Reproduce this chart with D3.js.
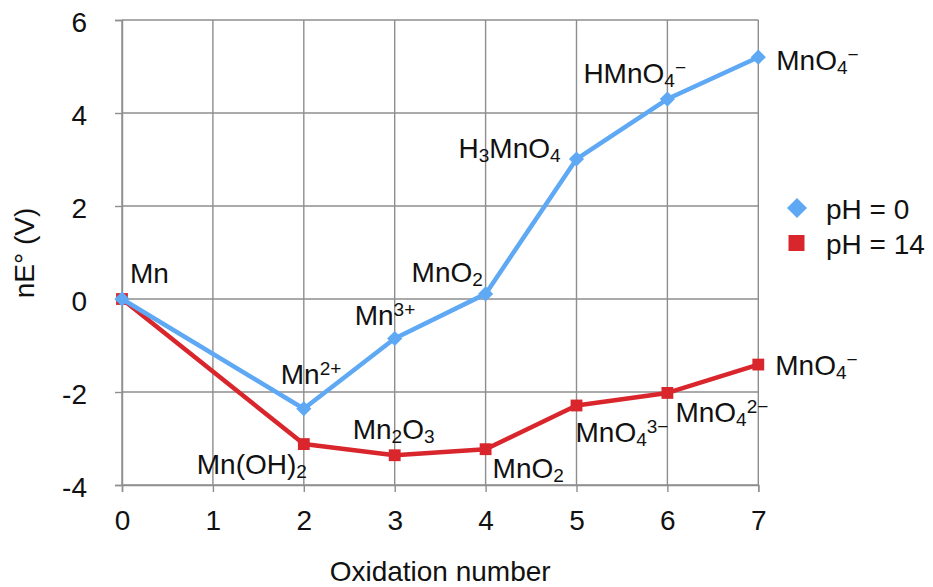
<!DOCTYPE html>
<html>
<head>
<meta charset="utf-8">
<script src="https://cdn.jsdelivr.net/npm/d3@7"></script>
<style>
  html, body { margin: 0; padding: 0; background: #fff; }
  svg text { font-family: "Liberation Sans", Arial, Helvetica, sans-serif; fill: #111; }
</style>
</head>
<body>
<svg id="chart" width="933" height="587"></svg>
<script>
// ---- data ----
const categories = ["0", "1", "2", "3", "4", "5", "6", "7"];
const yTicks = [-4, -2, 0, 2, 4, 6];
const oxidation = ["0", "2", "3", "4", "5", "6", "7"];
const ph0Values = [0, -2.36, -0.85, 0.11, 3.01, 4.30, 5.20];
const ph14Values = [0, -3.12, -3.36, -3.23, -2.29, -2.02, -1.41];
const ph0Labels = ["Mn", "Mn^{2+}", "Mn^{3+}", "MnO_{2}", "H_{3}MnO_{4}", "HMnO_{4}^{−}", "MnO_{4}^{−}"];
const ph14Labels = ["", "Mn(OH)_{2}", "Mn_{2}O_{3}", "MnO_{2}", "MnO_{4}^{3−}", "MnO_{4}^{2−}", "MnO_{4}^{−}"];
const seriesNames = ["pH = 0", "pH = 14"];
const xTitle = "Oxidation number";
const yTitle = "nE° (V)";

// ---- layout (label offsets from their point, px) ----
const ph0Offsets = [[8, -16], [-23, -25], [-40, -14], [-74, -12], [-118, -1], [-84, -16], [18, 13]];
const ph14Offsets = [[0, 0], [-107, 30], [-42, -16], [7, 29], [-1, 37], [8, 29], [17, 10]];

const BLUE = "#5ea8f4";
const RED = "#d9262c";
const GRID = "#8e8e8e";
const FS = 28;

const svg = d3.select("#chart");
const pL = 122, pR = 758.3, pT = 20, pB = 485;

const x = d3.scalePoint().domain(categories).range([pL, pR]).padding(0);
const y = d3.scaleLinear().domain([-4, 6]).range([pB, pT]);

// grid
const g = svg.append("g");
g.selectAll("line.hg").data(yTicks).join("line")
  .attr("x1", pL).attr("x2", pR)
  .attr("y1", d => y(d)).attr("y2", d => y(d))
  .attr("stroke", GRID).attr("stroke-width", 1.4);
g.selectAll("line.vg").data(categories).join("line")
  .attr("x1", d => x(d)).attr("x2", d => x(d))
  .attr("y1", pT).attr("y2", pB)
  .attr("stroke", GRID).attr("stroke-width", 1.4);

// axes
const yAxis = svg.append("g").attr("transform", `translate(${pL},0)`)
  .call(d3.axisLeft(y).tickValues(yTicks).tickSize(7).tickPadding(28).tickFormat(d => String(d)));
const xAxis = svg.append("g").attr("transform", `translate(0,${pB})`)
  .call(d3.axisBottom(x).tickSize(7).tickPadding(18));
[xAxis, yAxis].forEach(a => {
  a.select(".domain").attr("stroke", GRID).attr("stroke-width", 1.4);
  a.selectAll(".tick line").attr("stroke", GRID).attr("stroke-width", 1.4);
  a.selectAll(".tick text").attr("font-size", FS).attr("fill", "#111")
    .attr("font-family", '"Liberation Sans", Arial, sans-serif');
});
yAxis.selectAll(".tick text").attr("dy", "0.42em");

// titles
svg.append("text").attr("x", (pL + pR) / 2).attr("y", 581)
  .attr("text-anchor", "middle").attr("font-size", FS).text(xTitle);
svg.append("text").attr("transform", "translate(34,253) rotate(-90)")
  .attr("text-anchor", "middle").attr("font-size", FS).text(yTitle);

// series
const line = d3.line().x(d => x(d.x)).y(d => y(d.v));
const s0 = oxidation.map((o, i) => ({ x: o, v: ph0Values[i], label: ph0Labels[i], off: ph0Offsets[i] }));
const s14 = oxidation.map((o, i) => ({ x: o, v: ph14Values[i], label: ph14Labels[i], off: ph14Offsets[i] }));

function drawSeries(data, color, rot, size) {
  svg.append("path").datum(data).attr("d", line)
    .attr("fill", "none").attr("stroke", color).attr("stroke-width", 4.5)
    .attr("stroke-linejoin", "round");
  svg.append("g").selectAll("path").data(data).join("path")
    .attr("transform", d => `translate(${x(d.x)},${y(d.v)}) rotate(${rot})`)
    .attr("d", d3.symbol().type(d3.symbolSquare).size(size))
    .attr("fill", color);
}
drawSeries(s14, RED, 0, 140);
drawSeries(s0, BLUE, 45, 115);

// chemical labels with sub/superscripts
function parse(str) {
  const parts = [];
  const re = /([_^])\{([^}]*)\}|([^_^]+)/g;
  let m;
  while ((m = re.exec(str))) {
    if (m[3]) parts.push({ t: m[3], k: "n" });
    else parts.push({ t: m[2], k: m[1] === "_" ? "sub" : "sup" });
  }
  return parts;
}
function addLabel(d) {
  if (!d.label) return;
  const t = svg.append("text")
    .attr("x", x(d.x) + d.off[0]).attr("y", y(d.v) + d.off[1])
    .attr("font-size", FS);
  let shift = 0;
  parse(d.label).forEach(p => {
    let target = 0;
    if (p.k === "sub") target = 4;
    if (p.k === "sup") target = -9;
    t.append("tspan").attr("dy", target - shift)
      .attr("font-size", p.k === "n" ? FS : FS * 0.68)
      .text(p.t);
    shift = target;
  });
}
s0.forEach(addLabel);
s14.forEach(addLabel);

// legend
const legend = svg.append("g");
legend.append("path").attr("transform", "translate(797,208) rotate(45)")
  .attr("d", d3.symbol().type(d3.symbolSquare).size(200)).attr("fill", BLUE);
legend.append("path").attr("transform", "translate(796.5,243)")
  .attr("d", d3.symbol().type(d3.symbolSquare).size(256)).attr("fill", RED);
legend.append("text").attr("x", 826).attr("y", 218.5).attr("font-size", FS).text(seriesNames[0]);
legend.append("text").attr("x", 826).attr("y", 253.5).attr("font-size", FS).text(seriesNames[1]);
</script>
</body>
</html>
